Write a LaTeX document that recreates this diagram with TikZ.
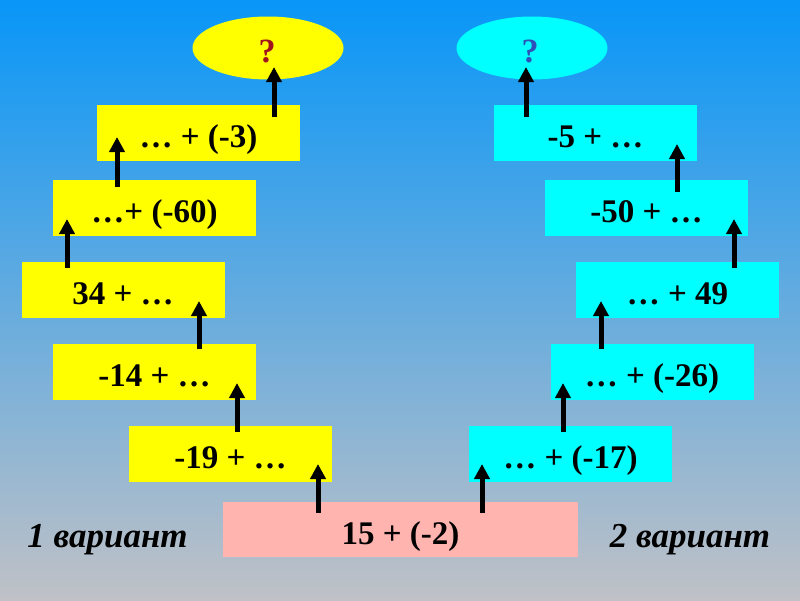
\documentclass[tikz,border=0pt]{standalone}
\usepackage{fontspec}
\setmainfont{Liberation Serif}
\usetikzlibrary{arrows.meta,shapes.geometric}
\definecolor{bgtop}{RGB}{8,150,248}
\definecolor{bgmid}{RGB}{92,168,224}
\definecolor{bgbot}{RGB}{192,193,198}
\definecolor{yel}{RGB}{255,255,0}
\definecolor{cya}{RGB}{0,255,255}
\definecolor{pnk}{RGB}{255,180,176}
\definecolor{qred}{RGB}{160,20,30}
\definecolor{qblue}{RGB}{46,80,184}
\tikzset{
  box/.style={rectangle, inner sep=0pt, minimum width=203pt, minimum height=56pt,
    font=\fontsize{33}{38}\selectfont\bfseries, text height=33pt, text depth=4pt},
  ybox/.style={box, fill=yel},
  cbox/.style={box, fill=cya},
  pbox/.style={box, fill=pnk, minimum width=355pt, minimum height=55pt},
  oval/.style={ellipse, inner sep=0pt, minimum width=151pt, minimum height=63pt,
    font=\fontsize{34}{38}\selectfont\bfseries},
  arr/.style={line width=5pt, -{Triangle[width=15pt,length=15pt]}},
  lab/.style={anchor=base, font=\fontsize{35}{40}\selectfont\bfseries\itshape}
}
\begin{document}
\begin{tikzpicture}[x=1pt,y=-1pt]
\shade[top color=bgtop, middle color=bgmid, bottom color=bgbot] (0,0) rectangle (800,600);
\useasboundingbox (0,0) rectangle (800,600);
% ellipses
\node[oval, fill=yel] (ql) at (268,48) {};
\node[oval, fill=cya] (qr) at (532,48) {};
\node[text=qred, font=\fontsize{34}{38}\selectfont\bfseries] (qlt) at (267,51) {?};
\node[text=qblue, font=\fontsize{34}{38}\selectfont\bfseries] (qrt) at (530,51) {?};
% left boxes
\node[ybox] (L1) at (198.5,132.5) {… + (-3)};
\node[ybox] (L2) at (154.5,208) {…+ (-60)};
\node[ybox] (L3) at (123,290) {34 + …};
\node[ybox] (L4) at (154.5,372) {-14 + …};
\node[ybox] (L5) at (230.5,454) {-19 + …};
% right boxes
\node[cbox] (R1) at (595.5,132.5) {-5 + …};
\node[cbox] (R2) at (646.5,208) {-50 + …};
\node[cbox] (R3) at (677.5,290) {… + 49};
\node[cbox] (R4) at (652,372) {… + (-26)};
\node[cbox] (R5) at (570.5,454) {… + (-17)};
% start
\node[pbox] (P) at (400.5,529.5) {15 + (-2)};
% labels
\node[lab] (v1) at (107.5,547) {1 вариант};
\node[lab] (v2) at (690,547) {2 вариант};
% arrow end points
\coordinate (a1s) at (318,513); \coordinate (a1e) at (318,464);
\coordinate (a2s) at (237,432); \coordinate (a2e) at (237,383);
\coordinate (a3s) at (199,349); \coordinate (a3e) at (199,301);
\coordinate (a4s) at (67,268);  \coordinate (a4e) at (67,219);
\coordinate (a5s) at (117,187); \coordinate (a5e) at (117,137);
\coordinate (a6s) at (274,117); \coordinate (a6e) at (274,67);
\coordinate (b1s) at (482,513); \coordinate (b1e) at (482,464);
\coordinate (b2s) at (563,432); \coordinate (b2e) at (563,383);
\coordinate (b3s) at (601,349); \coordinate (b3e) at (601,301);
\coordinate (b4s) at (734,268); \coordinate (b4e) at (734,219);
\coordinate (b5s) at (677,192); \coordinate (b5e) at (677,144);
\coordinate (b6s) at (526,117); \coordinate (b6e) at (526,67);
\foreach \a in {a1,a2,a3,a4,a5,a6,b1,b2,b3,b4,b5,b6}
  \draw[arr] (\a s) -- (\a e);
\end{tikzpicture}
\end{document}
